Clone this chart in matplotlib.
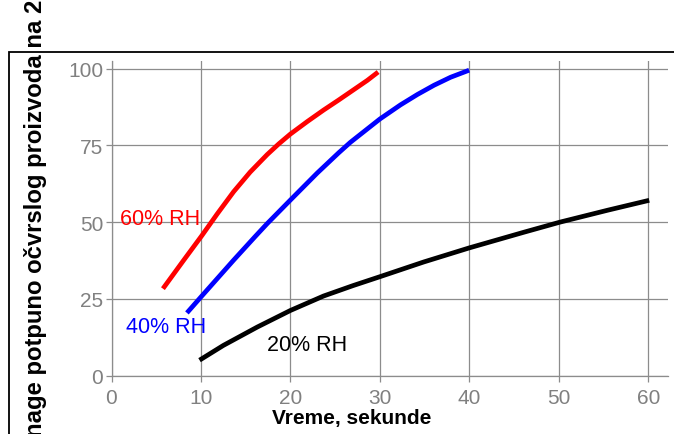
import matplotlib.pyplot as plt
from matplotlib.patches import Rectangle

W, H = 674, 435

# curves (seconds, percent)
red_x = [5.75, 8.05, 10.1, 11.8, 13.65, 15.5, 17.4, 18.7, 20, 21.9, 23.7,
         25.4, 26.7, 28.6, 29.8]
red_y = [28.3, 37.5, 45.6, 52.6, 59.9, 66.3, 72.0, 75.5, 78.7, 82.8, 86.5,
         89.8, 92.4, 96.2, 98.9]

blue_x = [8.43, 10, 13.65, 16.06, 17.4, 20, 23, 25.4, 26.7, 30, 32.3, 34.2,
          36.05, 37.9, 39.97]
blue_y = [20.4, 25.6, 37.6, 45.3, 49.5, 57.2, 66.0, 72.6, 76.0, 83.6, 88.2,
          91.6, 94.6, 97.2, 99.5]

black_x = [9.84, 12.5, 16.3, 20, 23.7, 27, 30, 34.9, 40, 46.1, 50.15, 55.5,
           60.1]
black_y = [5.0, 9.8, 15.8, 21.2, 25.9, 29.3, 32.2, 37.0, 41.6, 46.7, 50,
           53.9, 57.1]

x_ticks = [0, 10, 20, 30, 40, 50, 60]
y_ticks = [0, 25, 50, 75, 100]

labels = ["60% RH", "40% RH", "20% RH"]
label_pos = [(0.9, 51.3), (1.6, 15.9), (17.4, 10.2)]
colors = ["#ff0000", "#0000ff", "#000000"]

GRID = "#8c8c8c"


def px(x, y):
    # pixel position (from top left) -> figure fraction
    return x / W, 1 - y / H


def main():
    plt.rcParams['font.family'] = ['Liberation Sans', 'DejaVu Sans']
    fig = plt.figure(figsize=(W / 100, H / 100), dpi=100)

    # black frame, runs off the right and bottom edges
    fx, fy = px(9, 53)
    fig.patches.append(Rectangle((fx, -0.1), 1.2, fy + 0.1, fill=False,
                                 edgecolor="black", linewidth=1.3,
                                 transform=fig.transFigure))

    left, right, top, bottom = 111.5, 668, 62, 376.5
    ax = fig.add_axes([left / W, (H - bottom) / H,
                       (right - left) / W, (bottom - top) / H])
    ax.set_facecolor("none")

    for xs, ys, c in zip([red_x, blue_x, black_x], [red_y, blue_y, black_y],
                         colors):
        ax.plot(xs, ys, color=c, linewidth=3.4, solid_capstyle="butt",
                solid_joinstyle="round")

    for text, (tx, ty), c in zip(labels, label_pos, colors):
        ax.text(tx, ty, text, color=c, fontsize=15.5, ha="left", va="center")

    ax.set_xlim(0, 62.2)
    ax.set_ylim(0, 102.5)
    ax.set_xticks(x_ticks)
    ax.set_yticks(y_ticks)
    ax.grid(True, color=GRID, linewidth=0.9)
    for s in ["top", "right"]:
        ax.spines[s].set_visible(False)
    for s in ["left", "bottom"]:
        ax.spines[s].set_color(GRID)
        ax.spines[s].set_linewidth(0.9)
    ax.tick_params(colors=GRID, labelcolor="#808080", labelsize=15,
                   length=4, width=0.9)
    ax.tick_params(axis="x", pad=5)
    ax.tick_params(axis="y", pad=2)

    tx, ty = px(352, 419)
    fig.text(tx, ty, "Vreme, sekunde", fontsize=15, fontweight="bold",
             ha="center", va="center")

    lx, ly = px(42, 437)
    fig.text(lx, ly, "nage potpuno očvrslog proizvoda na 25 °C",
             fontsize=17.2, fontweight="bold", rotation=90,
             rotation_mode="anchor", ha="left", va="baseline")

    fig.savefig("out.png", dpi=100)


if __name__ == "__main__":
    main()
